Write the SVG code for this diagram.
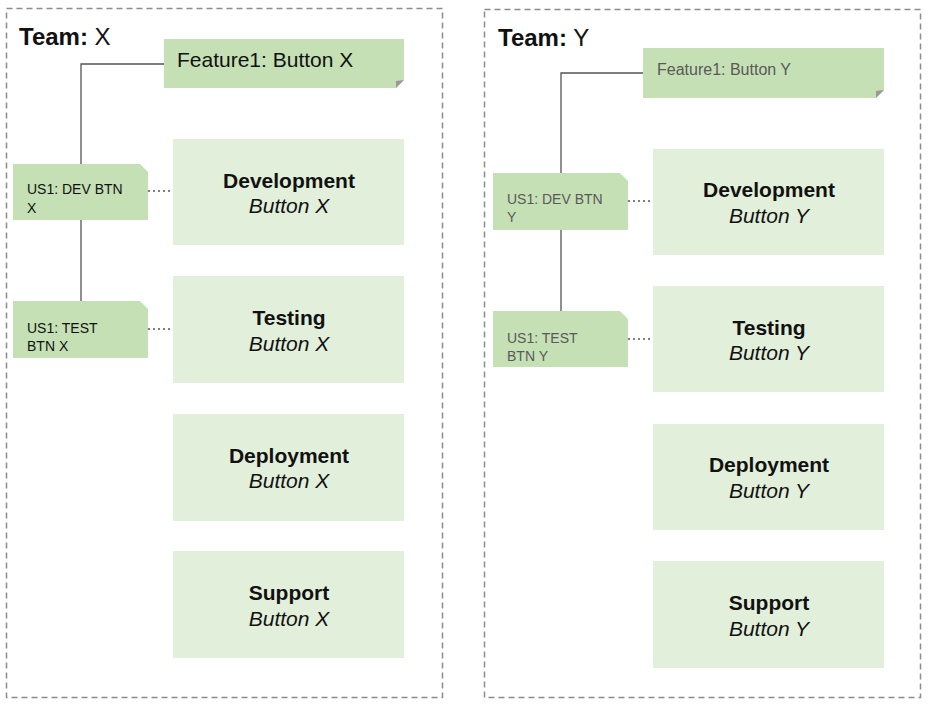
<svg xmlns="http://www.w3.org/2000/svg" width="930" height="706" viewBox="0 0 930 706">
<style>
.team{fill:none;stroke:#8c8c8c;stroke-width:1.5;stroke-dasharray:6,4}
.note{fill:#c5e0b4}
.fold{fill:#999}
.box{fill:#e2efda}
.t{font-family:"Liberation Sans",Arial,sans-serif}
.title{font-size:24px;fill:#111}
.bold{font-weight:bold}
.ft{font-size:21px;fill:#111}
.ftg{font-size:16px;fill:#595959}
.us{font-size:14px;fill:#111}
.usg{font-size:14px;fill:#595959}
.bt{font-size:21px;fill:#111;text-anchor:middle}
.it{font-style:italic}
.line{fill:none;stroke:#555;stroke-width:1.3}
.dot{fill:none;stroke:#555;stroke-width:1.3;stroke-dasharray:2,3}
</style>
<g id="teamX">
<rect class="team" x="6.5" y="8.5" width="436" height="689"/>
<text class="t title" x="19" y="45"><tspan class="bold">Team:</tspan> X</text>
</g>
<g id="teamY">
<rect class="team" x="484.5" y="9.5" width="436" height="688"/>
<text class="t title" x="498" y="46"><tspan class="bold">Team:</tspan> Y</text>
</g>
<g id="connectors">
<polyline class="line" points="164,64 81,64 81,301"/>
<line class="dot" x1="148" y1="191" x2="173" y2="191"/>
<line class="dot" x1="148" y1="329" x2="173" y2="329"/>
<polyline class="line" points="643,73 561,73 561,311"/>
<line class="dot" x1="628" y1="201" x2="653" y2="201"/>
<line class="dot" x1="628" y1="339" x2="653" y2="339"/>
</g>
<g id="featureX">
<polygon class="note" points="164,39 404,39 404,80 396,88 164,88"/>
<polygon class="fold" points="396,88 404,80 396,81"/>
<text class="t ft" x="177" y="67">Feature1: Button X</text>
</g>
<g id="featureY">
<polygon class="note" points="643,48 884,48 884,90 876,98 643,98"/>
<polygon class="fold" points="876,98 884,90 876,91"/>
<text class="t ftg" x="657" y="75">Feature1: Button Y</text>
</g>
<g id="usDevX">
<polygon class="note" points="13,164 140,164 148,172 148,220 13,220"/>
<text class="t us" x="27" y="194">US1: DEV BTN</text>
<text class="t us" x="27" y="213">X</text>
</g>
<g id="usTestX">
<polygon class="note" points="13,301 140,301 148,309 148,358 13,358"/>
<text class="t us" x="27" y="333">US1: TEST</text>
<text class="t us" x="27" y="351">BTN X</text>
</g>
<g id="usDevY">
<polygon class="note" points="493,173 620,173 628,181 628,230 493,230"/>
<text class="t usg" x="507" y="204">US1: DEV BTN</text>
<text class="t usg" x="507" y="222">Y</text>
</g>
<g id="usTestY">
<polygon class="note" points="493,311 620,311 628,319 628,367 493,367"/>
<text class="t usg" x="507" y="343">US1: TEST</text>
<text class="t usg" x="507" y="361">BTN Y</text>
</g>
<g id="devX">
<rect class="box" x="173" y="139" width="231" height="106"/>
<text class="t bt bold" x="289" y="188">Development</text>
<text class="t bt it" x="289" y="213">Button X</text>
</g>
<g id="testX">
<rect class="box" x="173" y="276" width="231" height="107"/>
<text class="t bt bold" x="289" y="325">Testing</text>
<text class="t bt it" x="289" y="351">Button X</text>
</g>
<g id="deployX">
<rect class="box" x="173" y="414" width="231" height="107"/>
<text class="t bt bold" x="289" y="463">Deployment</text>
<text class="t bt it" x="289" y="488">Button X</text>
</g>
<g id="supportX">
<rect class="box" x="173" y="551" width="231" height="107"/>
<text class="t bt bold" x="289" y="600">Support</text>
<text class="t bt it" x="289" y="626">Button X</text>
</g>
<g id="devY">
<rect class="box" x="653" y="149" width="231" height="106"/>
<text class="t bt bold" x="769" y="197">Development</text>
<text class="t bt it" x="769" y="223">Button Y</text>
</g>
<g id="testY">
<rect class="box" x="653" y="286" width="231" height="106"/>
<text class="t bt bold" x="769" y="335">Testing</text>
<text class="t bt it" x="769" y="360">Button Y</text>
</g>
<g id="deployY">
<rect class="box" x="653" y="424" width="231" height="106"/>
<text class="t bt bold" x="769" y="472">Deployment</text>
<text class="t bt it" x="769" y="498">Button Y</text>
</g>
<g id="supportY">
<rect class="box" x="653" y="561" width="231" height="107"/>
<text class="t bt bold" x="769" y="610">Support</text>
<text class="t bt it" x="769" y="636">Button Y</text>
</g>
</svg>
